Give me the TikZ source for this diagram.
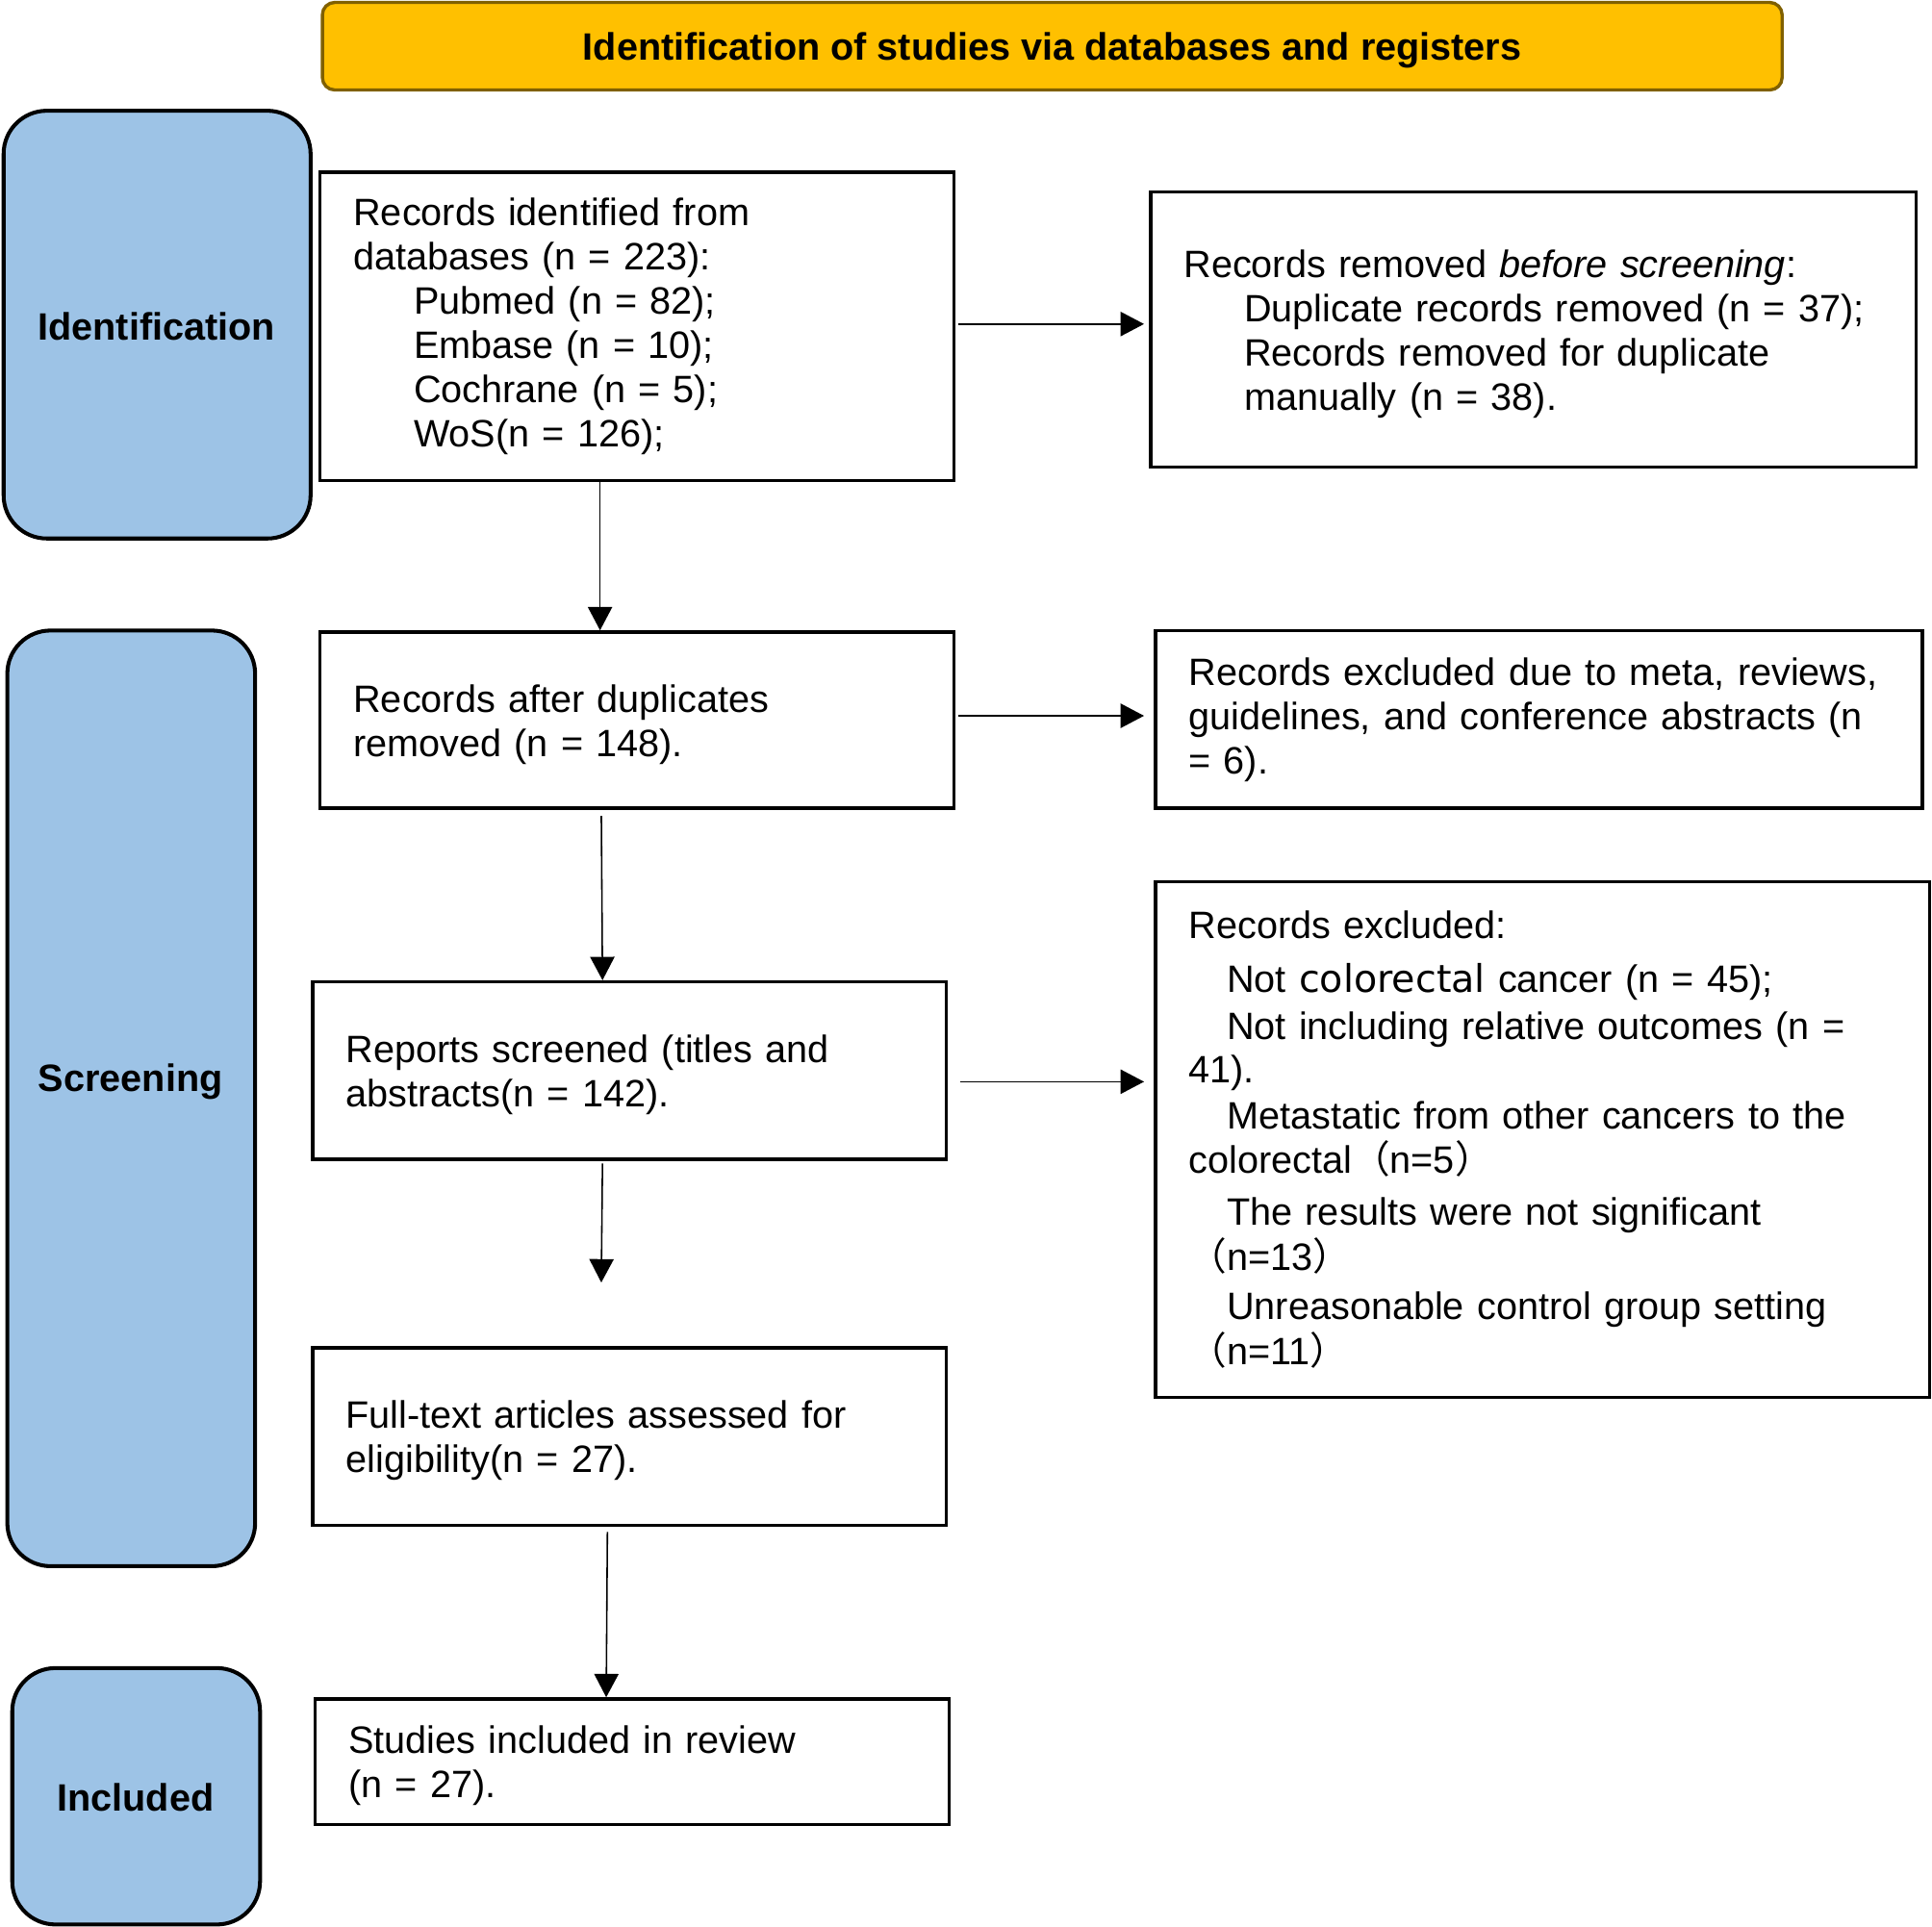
\documentclass[tikz,border=0pt]{standalone}
\usepackage{fontspec}
\setmainfont{Liberation Sans}
\newfontfamily\dejavu{DejaVu Sans}
\newfontfamily\cjk{Noto Sans CJK SC}
\usetikzlibrary{arrows.meta,calc}
\definecolor{phaseblue}{HTML}{9DC3E6}
\definecolor{titleorange}{HTML}{FFC000}
\definecolor{titleborder}{HTML}{806000}
\newcommand{\liftline}[1]{\rule{0pt}{#1}}
\begin{document}
\begin{tikzpicture}[x=0.01cm,y=-0.01cm,
  every node/.style={font=\fontsize{8.8pt}{10.24pt}\selectfont},
  flowbox/.style={draw=black, line width=0.75pt, fill=white, rectangle, align=left, inner xsep=0.27cm, inner ysep=0pt},
  phase/.style={draw=black, line width=0.9pt, fill=phaseblue, rounded corners=0.35cm, inner sep=0pt},
  phaselabel/.style={font=\fontsize{8.8pt}{10.24pt}\selectfont\bfseries, inner sep=0pt, text depth=0pt},
  conn/.style={line width=0.35pt, -{Triangle[length=5.4pt,width=5.6pt]}}
]
\useasboundingbox (0,0) rectangle (1568,1564);

% title
\node[draw=titleborder, line width=0.75pt, fill=titleorange, rounded corners=0.1cm,
      minimum width=11.84cm, minimum height=0.71cm, inner sep=0pt, text depth=0pt,
      font=\fontsize{8.8pt}{10.24pt}\selectfont\bfseries] (title) at (854,37.5)
      {Identification of studies via databases and registers};

% phase boxes
\node[phase, minimum width=2.49cm, minimum height=3.47cm] (idbox) at (127.5,263.5) {};
\node[phaselabel] (idlabel) at (127,265) {Identification};
\node[phase, minimum width=2.01cm, minimum height=7.59cm] (scrbox) at (106.5,891.5) {};
\node[phaselabel] (scrlabel) at (106,875) {Screening};
\node[phase, minimum width=2.01cm, minimum height=2.08cm] (incbox) at (110.5,1458) {};
\node[phaselabel] (inclabel) at (110,1459) {Included};

% flow boxes
\node[flowbox, minimum width=5.14cm, minimum height=2.50cm, text width=4.60cm] (A) at (517,265)
 {Records identified from\\
  databases (n = 223):\\
  \hspace*{0.49cm}Pubmed (n = 82);\\
  \hspace*{0.49cm}Embase (n = 10);\\
  \hspace*{0.49cm}Cochrane (n = 5);\\
  \hspace*{0.49cm}WoS(n = 126);};

\node[flowbox, minimum width=6.21cm, minimum height=2.23cm, text width=5.67cm] (B) at (1244.5,267.5)
 {\liftline{8.6pt}Records removed \textit{before screening}:\\
  \hspace*{0.49cm}Duplicate records removed (n = 37);\\
  \hspace*{0.49cm}Records removed for duplicate\\
  \hspace*{0.49cm}manually (n = 38).};

\node[flowbox, minimum width=5.14cm, minimum height=1.43cm, text width=4.60cm] (C) at (517,584.5)
 {\liftline{8.5pt}Records after duplicates\\
  removed (n = 148).};

\node[flowbox, minimum width=6.22cm, minimum height=1.44cm, text width=5.68cm] (D) at (1249,584)
 {Records excluded due to meta, reviews,\\
  guidelines, and conference abstracts (n\\
  = 6).};

\node[flowbox, minimum width=5.14cm, minimum height=1.44cm, text width=4.60cm] (E) at (511,869)
 {\liftline{8.3pt}Reports screened (titles and\\
  abstracts(n = 142).};

\node[flowbox, minimum width=6.28cm, minimum height=4.18cm, text width=5.74cm] (F) at (1252,925)
 {Records excluded:\\[2pt]
  \hspace*{0.31cm}Not {\dejavu colorectal} cancer (n = 45);\\[0.85pt]
  \hspace*{0.31cm}Not including relative outcomes (n =\\[-0.28pt]
  41).\\[0.28pt]
  \hspace*{0.31cm}Metastatic from other cancers to the\\
  colorectal{\cjk （}n=5{\cjk ）}\\[1.7pt]
  \hspace*{0.31cm}The results were not significant\\[0.28pt]
  {\cjk （}n=13{\cjk ）}\\[1.2pt]
  \hspace*{0.31cm}Unreasonable control group setting\\
  {\cjk （}n=11{\cjk ）}};

\node[flowbox, minimum width=5.14cm, minimum height=1.44cm, text width=4.60cm] (G) at (511,1166)
 {\liftline{8.3pt}Full-text articles assessed for\\
  eligibility(n = 27).};

\node[flowbox, minimum width=5.14cm, minimum height=1.02cm, text width=4.60cm] (H) at (513,1430)
 {\liftline{8.3pt}Studies included in review\\
  (n = 27).};

% helper coordinates
\coordinate (x487) at (487,0);
\coordinate (x488) at (488,0);
\coordinate (x489) at (489,0);
\coordinate (x492) at (492,0);
\coordinate (x493) at (493,0);
\coordinate (y263) at (0,263);
\coordinate (y581) at (0,581);
\coordinate (y878) at (0,878);
\coordinate (gapend) at (488,1041);

% connectors
\draw[conn] (A.south -| x487) -- (C.north -| x487);
\draw[conn, shorten <=0.02cm, shorten >=0.04cm] (A.east |- y263) -- (B.west |- y263);
\draw[conn, shorten <=0.05cm] (C.south -| x488) -- (E.north -| x489);
\draw[conn, shorten <=0.02cm, shorten >=0.08cm] (C.east |- y581) -- (D.west |- y581);
\draw[conn, shorten <=0.10cm, shorten >=0.08cm] (E.east |- y878) -- (F.west |- y878);
\draw[conn, shorten <=0.02cm] (E.south -| x489) -- (gapend);
\draw[conn, shorten <=0.04cm] (G.south -| x493) -- (H.north -| x492);
\end{tikzpicture}
\end{document}
